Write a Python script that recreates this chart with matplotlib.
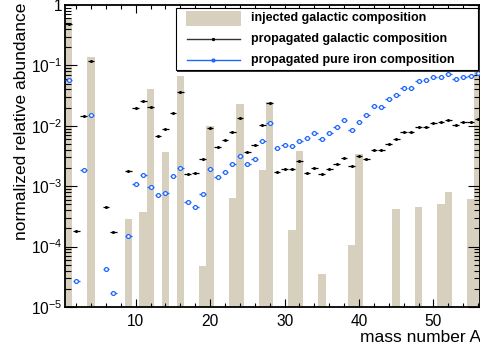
import matplotlib
matplotlib.use("Agg")
import matplotlib.pyplot as plt
from matplotlib.patches import Rectangle
from matplotlib.lines import Line2D
from matplotlib.ticker import FixedLocator, LogLocator, FuncFormatter, NullFormatter
import numpy as np

plt.rcParams['font.family'] = ['Liberation Sans', 'DejaVu Sans']
plt.rcParams['mathtext.fontset'] = 'custom'
plt.rcParams['mathtext.rm'] = 'Liberation Sans'
plt.rcParams['mathtext.it'] = 'Liberation Sans:italic'
plt.rcParams['mathtext.bf'] = 'Liberation Sans:bold'

# ---- data ----
A_inj = [1, 4, 9, 11, 12, 14, 16, 19, 20, 23, 24, 27, 28, 31, 32, 35, 39, 40,
         45, 48, 51, 52, 55, 56]
inj_gal = [0.62, 0.139, 2.88e-4, 3.7e-4, 0.041, 3.73e-3, 0.0673, 4.7e-5, 9.9e-3,
           6.4e-4, 0.0227, 1.86e-3, 0.025, 1.9e-4, 3.83e-3, 3.55e-5, 1.07e-4,
           3.38e-3, 4.26e-4, 4.6e-4, 5.04e-4, 7.96e-4, 6.17e-4, 0.078]

A_prop = [1, 2, 3, 4, 6, 7, 9, 10, 11, 12, 13, 14, 15, 16, 17, 18, 19, 20, 21,
          22, 23, 24, 25, 26, 27, 28, 29, 30, 31, 32, 33, 34, 35, 36, 37, 38,
          39, 40, 41, 42, 43, 44, 45, 46, 47, 48, 49, 50, 51, 52, 53, 54, 55, 56]
prop_gal = [0.476, 1.82e-4, 0.0144, 0.118, 4.5e-4, 1.74e-4, 1.79e-3, 0.0197,
            0.026, 0.0207, 6.7e-3, 8.85e-3, 0.0165, 0.0362, 1.6e-3, 1.64e-3,
            2.83e-3, 9.2e-3, 4.41e-3, 5.9e-3, 7.9e-3, 0.0133, 3.73e-3, 4.76e-3,
            0.0104, 0.0241, 1.7e-3, 1.93e-3, 1.9e-3, 2.62e-3, 1.64e-3, 1.98e-3,
            1.58e-3, 1.93e-3, 2.31e-3, 2.97e-3, 2.17e-3, 3.2e-3, 2.79e-3,
            3.94e-3, 3.94e-3, 5.0e-3, 6.12e-3, 7.8e-3, 7.9e-3, 9.45e-3, 9.67e-3,
            0.01125, 0.0114, 0.0127, 0.0103, 0.0114, 0.01155, 0.013]
prop_iron = [0.057, 2.65e-5, 1.88e-3, 0.0151, 4.3e-5, 1.68e-5, 1.51e-4, 1.08e-3,
             1.54e-3, 9.85e-4, 7.1e-4, 7.66e-4, 1.48e-3, 2.03e-3, 5.44e-4,
             4.55e-4, 7.55e-4, 1.95e-3, 1.44e-3, 1.72e-3, 2.34e-3, 3.17e-3,
             2.34e-3, 2.79e-3, 5.54e-3, 0.011, 4.3e-3, 4.82e-3, 4.69e-3,
             5.54e-3, 6.36e-3, 7.69e-3, 6.12e-3, 7.69e-3, 9.55e-3, 0.0126,
             8.62e-3, 0.01155, 0.0149, 0.0212, 0.0207, 0.0274, 0.0327, 0.0426,
             0.043, 0.0544, 0.0565, 0.064, 0.065, 0.0718, 0.060, 0.065, 0.0673,
             0.0755]

labels = ["injected galactic composition",
          "propagated galactic composition",
          "propagated pure iron composition"]
x_ticks = [10, 20, 30, 40, 50]
y_ticks = [1e-5, 1e-4, 1e-3, 1e-2, 1e-1, 1]

TAN = '#d7d0be'
BLUE = '#1f66ff'

W, H = 481, 353
fig = plt.figure(figsize=(W / 100, H / 100), dpi=100)
L, R, T, B = 65, 479.5, 5, 307
ax = fig.add_axes([L / W, 1 - B / H, (R - L) / W, (B - T) / H])

ax.set_yscale('log')
ax.bar(A_inj, np.array(inj_gal) - 1e-7, bottom=1e-7, width=1.0, color=TAN,
       edgecolor='none', zorder=1)
ax.errorbar(A_prop, prop_gal, xerr=0.45, fmt='o', color='black', ms=2.2,
            elinewidth=0.9, capsize=0, mew=0, zorder=3)
ax.errorbar(A_prop, prop_iron, xerr=0.45, fmt='o', color=BLUE, ms=2.8,
            mfc='white', mec=BLUE, mew=0.9, elinewidth=1.0, capsize=0, zorder=4)

ax.set_xlim(0.5, 56.19)
ax.set_ylim(1e-5, 1)

ax.xaxis.set_major_locator(FixedLocator(x_ticks))
ax.xaxis.set_minor_locator(FixedLocator(np.arange(2, 57, 2)))
ax.yaxis.set_major_locator(FixedLocator(y_ticks))
ax.yaxis.set_minor_locator(LogLocator(base=10, subs=np.arange(2, 10), numticks=20))
ax.yaxis.set_minor_formatter(NullFormatter())


def yfmt(v, pos):
    e = int(round(np.log10(v)))
    if e == 0:
        return '1'
    return r'$10^{%d}$' % e


ax.yaxis.set_major_formatter(FuncFormatter(yfmt))

ax.tick_params(axis='both', which='both', direction='in', top=True, right=True,
               width=0.8, colors='black', labelsize=11.2)
ax.tick_params(axis='x', which='major', length=5.8, pad=5)
ax.tick_params(axis='x', which='minor', length=3)
ax.tick_params(axis='y', which='major', length=8.8, pad=2)
ax.tick_params(axis='y', which='minor', length=4.3)
for s in ax.spines.values():
    s.set_linewidth(1.3)

ax.set_xlabel('mass number A', fontsize=12.5, loc='right')
ax.xaxis.set_label_coords((481 - L) / (R - L), (B - 330) / (B - T))
ax.set_ylabel('normalized relative abundance', fontsize=12.5, loc='top')
ax.yaxis.set_label_coords((29 - L) / (R - L), (B - 3) / (B - T))


# ---- legend (ROOT-style box) ----
def fx(x):
    return x / W


def fy(y):
    return 1 - y / H


bx0, by0, bx1, by1 = 175.7, 8, 478.3, 70
fig.add_artist(Rectangle((fx(bx0 + 1.5), fy(by1 + 2)), fx(bx1 - bx0), (by1 - by0) / H,
                         transform=fig.transFigure, facecolor='#333333',
                         edgecolor='none', zorder=5))
fig.add_artist(Rectangle((fx(bx0), fy(by1)), fx(bx1 - bx0), (by1 - by0) / H,
                         transform=fig.transFigure, facecolor='white',
                         edgecolor='black', lw=0.8, zorder=6))
fig.add_artist(Rectangle((fx(186), fy(25.7)), fx(240.7 - 186), 14.7 / H,
                         transform=fig.transFigure, facecolor=TAN,
                         edgecolor='none', zorder=7))
fig.add_artist(Line2D([fx(186.7), fx(240)], [fy(39), fy(39)], transform=fig.transFigure,
                      color='#333333', lw=1.0, zorder=7))
fig.add_artist(Line2D([fx(213.3)], [fy(39)], transform=fig.transFigure, marker='o',
                      color='black', ms=2.4, mew=0, zorder=8))
fig.add_artist(Line2D([fx(186.7), fx(240)], [fy(60), fy(60)], transform=fig.transFigure,
                      color=BLUE, lw=1.0, zorder=7))
fig.add_artist(Line2D([fx(213.3)], [fy(60)], transform=fig.transFigure, marker='o',
                      color=BLUE, ms=3.0, mew=0, zorder=8))
for lab, yy in zip(labels, [18, 39, 60]):
    fig.text(fx(251), fy(yy), lab, fontsize=9, fontweight='bold', va='center',
             ha='left', zorder=9)

fig.savefig('out.png', dpi=100)
